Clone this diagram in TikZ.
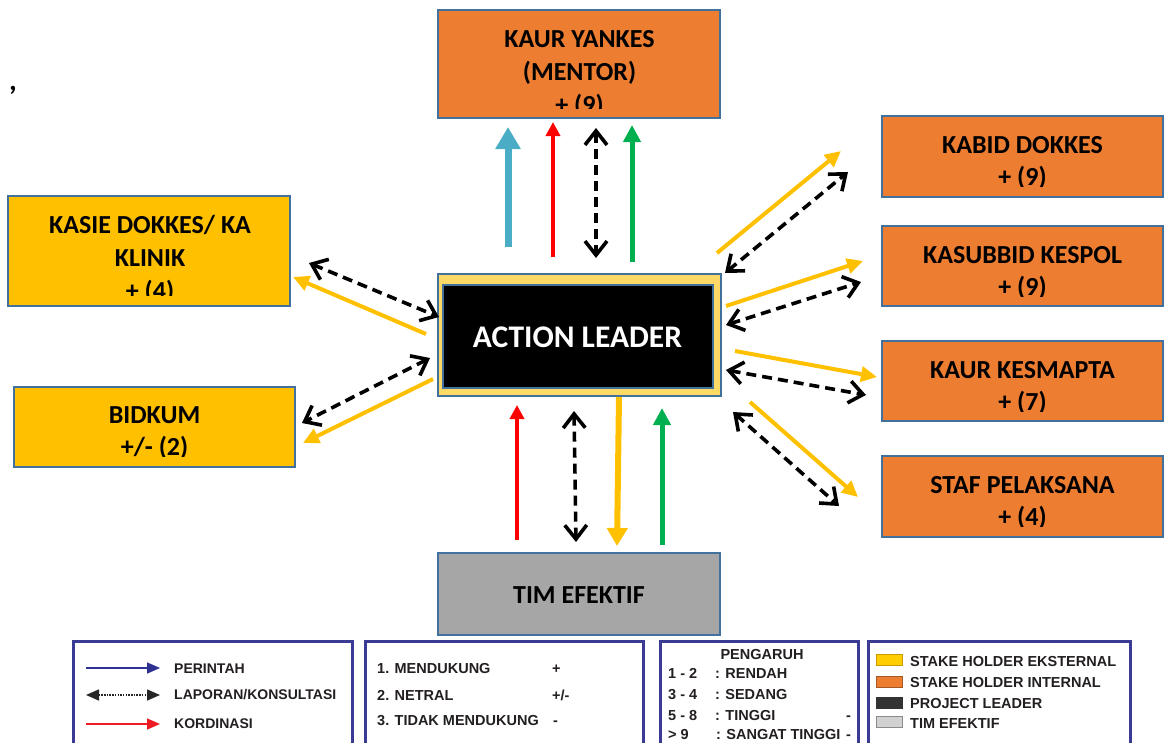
\documentclass[tikz,border=0pt]{standalone}
\usepackage{fontspec}
\setmainfont{Carlito}
\newfontfamily\legfont{Liberation Sans}
\usetikzlibrary{arrows.meta}
\definecolor{orgfill}{HTML}{ED7D31}
\definecolor{yelfill}{HTML}{FFC000}
\definecolor{grayfill}{HTML}{A6A6A6}
\definecolor{bdr}{HTML}{41719C}
\definecolor{ltyel}{HTML}{FFD966}
\definecolor{arblue}{HTML}{4BACC6}
\definecolor{argreen}{HTML}{00B050}
\definecolor{aryel}{HTML}{FFC000}
\definecolor{legblue}{HTML}{2E3192}
\definecolor{legred}{HTML}{ED1C24}
\definecolor{legborder}{HTML}{3B3B93}
\definecolor{legtext}{HTML}{231F20}
\tikzset{
  box/.style={draw=bdr, line width=1.8pt, inner sep=0pt},
  btxt/.style={font=\bfseries\fontsize{26}{26}\selectfont, anchor=base, inner sep=0pt},
  vtip/.tip={Straight Barb[length=14pt,width=22pt]},
  dashtwo/.style={line width=3.6pt, dash pattern=on 10pt off 6pt, vtip-vtip},
  yarrow/.style={draw=aryel, line width=4pt, -{Triangle[length=16pt,width=15pt]}},
  rarrow/.style={draw=red, line width=3.5pt, -{Triangle[length=14pt,width=14pt]}},
  garrow/.style={draw=argreen, line width=5pt, -{Triangle[length=17pt,width=17pt]}},
  legbox/.style={draw=legborder, line width=3pt, inner sep=0pt},
  ltxt/.style={font=\legfont\bfseries\fontsize{14.5}{14.5}\selectfont, text=legtext, anchor=base west, inner sep=0pt},
  swatch/.style={line width=0.8pt, inner sep=0pt, minimum width=26pt, minimum height=11pt}
}
\begin{document}
\begin{tikzpicture}[x=1pt,y=-1pt]
\useasboundingbox (0,0) rectangle (1165,742);
\node[font=\bfseries\fontsize{30}{30}\selectfont, inner sep=0pt] (comma) at (13,90) {,};

% ---------- boxes ----------
\node[box, fill=orgfill, minimum width=282pt, minimum height=108pt] (yankes) at (579,64) {};
\node[box, fill=orgfill, minimum width=281pt, minimum height=81pt] (kabid) at (1022.5,156.5) {};
\node[box, fill=orgfill, minimum width=281pt, minimum height=80pt] (kasub) at (1022.5,266) {};
\node[box, fill=orgfill, minimum width=281pt, minimum height=80pt] (kesm) at (1022.5,381) {};
\node[box, fill=orgfill, minimum width=281pt, minimum height=81pt] (staf) at (1022.5,496.5) {};
\node[box, fill=yelfill, minimum width=282pt, minimum height=110pt] (kasie) at (149,251) {};
\node[box, fill=yelfill, minimum width=281pt, minimum height=80pt] (bidkum) at (154.5,427) {};
\node[box, fill=grayfill, minimum width=282pt, minimum height=82pt] (tim) at (579,594) {};
\node[box, fill=ltyel, minimum width=283pt, minimum height=122pt] (alout) at (579.5,335) {};
\node[box, fill=black, minimum width=270pt, minimum height=103pt] (alin) at (578,336.5) {};

% ---------- box texts ----------
\begin{scope}
\clip (438,10) rectangle (720,108);
\node[btxt] (yankesA) at (579.5,47) {KAUR YANKES};
\node[btxt] (yankesB) at (579.5,80) {(MENTOR)};
\node[btxt] (yankesC) at (579.5,113) {+ (9)};
\end{scope}
\begin{scope}
\clip (882,116) rectangle (1163,186);
\node[btxt] (kabidA) at (1022.5,153) {KABID DOKKES};
\node[btxt] (kabidB) at (1022.5,185) {+ (9)};
\end{scope}
\begin{scope}
\clip (882,226) rectangle (1163,296);
\node[btxt] (kasubA) at (1022.5,263) {KASUBBID KESPOL};
\node[btxt] (kasubB) at (1022.5,295) {+ (9)};
\end{scope}
\begin{scope}
\clip (882,341) rectangle (1163,411);
\node[btxt] (kesmA) at (1022.5,378) {KAUR KESMAPTA};
\node[btxt] (kesmB) at (1022.5,410) {+ (7)};
\end{scope}
\begin{scope}
\clip (882,456) rectangle (1163,526);
\node[btxt] (stafA) at (1022.5,493) {STAF PELAKSANA};
\node[btxt] (stafB) at (1022.5,525) {+ (4)};
\end{scope}
\begin{scope}
\clip (8,196) rectangle (290,295);
\node[btxt] (kasieA) at (150,233) {KASIE DOKKES/ KA};
\node[btxt] (kasieB) at (150,266) {KLINIK};
\node[btxt] (kasieC) at (150,299) {+ (4)};
\end{scope}
\begin{scope}
\clip (14,387) rectangle (295,456);
\node[btxt] (bidkumA) at (154.5,423) {BIDKUM};
\node[btxt] (bidkumB) at (154.5,455) {+/- (2)};
\end{scope}
\node[btxt] (timA) at (579,603) {TIM EFEKTIF};
\node[btxt, text=white, font=\bfseries\fontsize{31.5}{31.5}\selectfont] (alA) at (577.5,347) {ACTION LEADER};

% ---------- arrow end points ----------
\coordinate (tB1) at (508,247); \coordinate (tB2) at (508,127);
\coordinate (tR1) at (553,257); \coordinate (tR2) at (553,122);
\coordinate (tD1) at (596,128); \coordinate (tD2) at (596,258);
\coordinate (tG1) at (632,262); \coordinate (tG2) at (632,125);
\coordinate (bR1) at (517,540); \coordinate (bR2) at (517,405);
\coordinate (bD1) at (574,411); \coordinate (bD2) at (576,542);
\coordinate (bY1) at (619,397); \coordinate (bY2) at (617,546);
\coordinate (bG1) at (662,545); \coordinate (bG2) at (662,408);
\coordinate (rY1a) at (717,253); \coordinate (rY1b) at (841,151);
\coordinate (rD1a) at (725,273); \coordinate (rD1b) at (848,172);
\coordinate (rY2a) at (726,306); \coordinate (rY2b) at (863,261);
\coordinate (rD2a) at (726,325); \coordinate (rD2b) at (861,282);
\coordinate (rY3a) at (735,351); \coordinate (rY3b) at (877,377);
\coordinate (rD3a) at (726,370); \coordinate (rD3b) at (866,395);
\coordinate (rD4a) at (733,412); \coordinate (rD4b) at (839,506);
\coordinate (rY4a) at (750,402); \coordinate (rY4b) at (858,497);
\coordinate (lD1a) at (309,263); \coordinate (lD1b) at (439,317);
\coordinate (lY1a) at (426,334); \coordinate (lY1b) at (293,277);
\coordinate (lD2a) at (430,358); \coordinate (lD2b) at (302,423);
\coordinate (lY2a) at (433,379); \coordinate (lY2b) at (303,443);

% ---------- arrows ----------
\draw[draw=arblue, line width=7pt, -{Triangle[length=22pt,width=24pt]}] (tB1) -- (tB2);
\draw[rarrow] (tR1) -- (tR2);
\draw[dashtwo] (tD1) -- (tD2);
\draw[garrow] (tG1) -- (tG2);
\draw[rarrow] (bR1) -- (bR2);
\draw[dashtwo] (bD1) -- (bD2);
\draw[draw=aryel, line width=6pt, -{Triangle[length=18pt,width=20pt]}] (bY1) -- (bY2);
\draw[garrow] (bG1) -- (bG2);
\draw[yarrow] (rY1a) -- (rY1b);
\draw[dashtwo] (rD1a) -- (rD1b);
\draw[yarrow] (rY2a) -- (rY2b);
\draw[dashtwo] (rD2a) -- (rD2b);
\draw[yarrow] (rY3a) -- (rY3b);
\draw[dashtwo] (rD3a) -- (rD3b);
\draw[dashtwo] (rD4a) -- (rD4b);
\draw[yarrow] (rY4a) -- (rY4b);
\draw[dashtwo] (lD1a) -- (lD1b);
\draw[yarrow] (lY1a) -- (lY1b);
\draw[dashtwo] (lD2a) -- (lD2b);
\draw[yarrow] (lY2a) -- (lY2b);

% ---------- legend ----------
\node[legbox, fill=white, minimum width=279pt, minimum height=125pt] (leg1) at (212.5,703.5) {};
\node[legbox, fill=white, minimum width=278pt, minimum height=125pt] (leg2) at (504,703.5) {};
\node[legbox, fill=white, minimum width=198pt, minimum height=125pt] (leg3) at (759,703.5) {};
\node[legbox, fill=white, minimum width=262pt, minimum height=125pt] (leg4) at (999,703.5) {};

\coordinate (lgA1) at (86,668); \coordinate (lgA2) at (160,668);
\coordinate (lgB1) at (86,695); \coordinate (lgB2) at (160,695);
\coordinate (lgC1) at (86,724); \coordinate (lgC2) at (160,724);
\draw[legblue, line width=1.6pt, -{Triangle[length=13pt,width=11pt]}] (lgA1) -- (lgA2);
\draw[black!85, line width=1.6pt, dash pattern=on 1.5pt off 1.2pt, {Triangle[length=13pt,width=11pt]}-{Triangle[length=13pt,width=11pt]}] (lgB1) -- (lgB2);
\draw[legred, line width=1.6pt, -{Triangle[length=13pt,width=11pt]}] (lgC1) -- (lgC2);
\node[ltxt, font=\legfont\bfseries\fontsize{14}{14}\selectfont] (t11) at (174,673) {PERINTAH};
\node[ltxt, font=\legfont\bfseries\fontsize{14}{14}\selectfont] (t12) at (174,699) {LAPORAN/KONSULTASI};
\node[ltxt, font=\legfont\bfseries\fontsize{14}{14}\selectfont] (t13) at (174,728) {KORDINASI};

\node[ltxt] (t21) at (377,673) {1. MENDUKUNG};
\node[ltxt] (t21b) at (552,673) {+};
\node[ltxt] (t22) at (377,700) {2. NETRAL};
\node[ltxt] (t22b) at (552,700) {+/-};
\node[ltxt] (t23) at (377,725) {3. TIDAK MENDUKUNG};
\node[ltxt] (t23b) at (553,725) {-};

\node[ltxt, anchor=base] (t30) at (762,659) {PENGARUH};
\node[ltxt] (t31) at (668,678) {1 - 2};
\node[ltxt] (t31b) at (715,678) {: RENDAH};
\node[ltxt] (t32) at (668,699) {3 - 4};
\node[ltxt] (t32b) at (715,699) {: SEDANG};
\node[ltxt] (t33) at (668,720) {5 - 8};
\node[ltxt] (t33b) at (715,720) {: TINGGI};
\node[ltxt] (t33c) at (846,720) {-};
\node[ltxt] (t34) at (668,739) {> 9};
\node[ltxt] (t34b) at (716,739) {: SANGAT TINGGI};
\node[ltxt] (t34c) at (846,739) {-};

\node[swatch, fill=yelfill!80!yellow, draw=yelfill!80!black] (s1) at (889,659.5) {};
\node[swatch, fill=orgfill, draw=orgfill!70!black] (s2) at (889,681.5) {};
\node[swatch, fill=black!80, draw=black!80] (s3) at (889,702.5) {};
\node[swatch, fill=black!18, draw=black!45] (s4) at (889,721.5) {};
\node[ltxt] (t41) at (910,666) {STAKE HOLDER EKSTERNAL};
\node[ltxt] (t42) at (910,687) {STAKE HOLDER INTERNAL};
\node[ltxt] (t43) at (910,708) {PROJECT LEADER};
\node[ltxt] (t44) at (910,728) {TIM EFEKTIF};
\end{tikzpicture}
\end{document}
